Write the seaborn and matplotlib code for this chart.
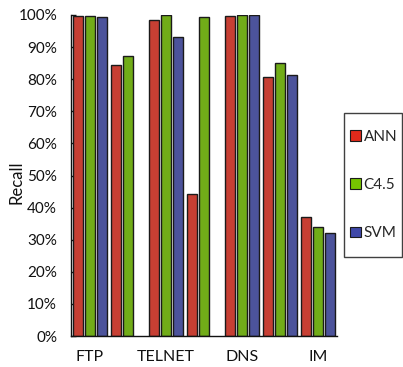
import numpy as np
import pandas as pd
import matplotlib
matplotlib.use("Agg")
import matplotlib.pyplot as plt
from matplotlib.patches import Patch, Rectangle
from matplotlib.ticker import PercentFormatter
import seaborn as sns

# Recall per traffic class for each classifier (NaN = no result)
tick_labels = ["FTP", "", "TELNET", "", "DNS", "", "IM"]
classifiers = ["ANN", "C4.5", "SVM"]
ann = [0.996, 0.844, 0.984, 0.442, 0.997, 0.808, 0.370]
c45 = [0.998, 0.873, 1.000, 0.995, 1.000, 0.851, 0.341]
svm = [0.994, np.nan, 0.930, np.nan, 1.000, 0.812, 0.320]
colors = ["#DF2A1B", "#76C400", "#3F48A8"]

groups = list(range(len(tick_labels)))
df = pd.DataFrame({
    "group": groups * 3,
    "classifier": [c for c in classifiers for _ in groups],
    "recall": ann + c45 + svm,
})

sns.set_style("white")
plt.rcParams["font.family"] = ["Lato", "DejaVu Sans"]

W, H = 403, 367
fig = plt.figure(figsize=(W / 100, H / 100), dpi=100)
ax = fig.add_axes([71 / W, 1 - 336 / H, 266 / W, 321 / H])

sns.barplot(data=df, x="group", y="recall", hue="classifier",
            order=groups, hue_order=classifiers, palette=colors,
            width=0.94, gap=0.15, edgecolor="#1a1a1a", linewidth=1.0,
            legend=False, ax=ax)

ax.set_xlim(-0.5, len(groups) - 0.5)
ax.set_ylim(0, 1)
ax.set_yticks(np.arange(0, 1.01, 0.1))
ax.yaxis.set_major_formatter(PercentFormatter(1.0, decimals=0))
ax.set_xticks(groups)
ax.set_xticklabels(tick_labels)
ax.set_xlabel("")
ax.set_ylabel("Recall", fontsize=12, color="#111111")
ax.yaxis.set_label_coords(-0.175, 0.48)

for s in ["top", "right"]:
    ax.spines[s].set_visible(False)
for s in ["left", "bottom"]:
    ax.spines[s].set_color("#111111")
    ax.spines[s].set_linewidth(1.0)

ax.tick_params(axis="y", direction="in", length=3.5, width=1.0, color="#111111",
               pad=10, labelsize=11, labelcolor="#111111", left=True)
ax.tick_params(axis="x", direction="in", length=2.5, width=1.0, color="#111111",
               pad=10, labelsize=11.5, labelcolor="#111111", bottom=True)

# legend box drawn as a separate frame, entries centred inside it
box_x0, box_x1, box_y0, box_y1 = 344, 402, 113, 257
fig.patches.append(Rectangle((box_x0 / W, 1 - box_y1 / H),
                             (box_x1 - box_x0) / W, (box_y1 - box_y0) / H,
                             transform=fig.transFigure, fill=False,
                             edgecolor="#404040", linewidth=1.0))
handles = [Patch(facecolor=c, edgecolor="#1a1a1a", linewidth=0.8) for c in colors]
fig.legend(handles, classifiers, loc="center left",
           bbox_to_anchor=(350 / W, 1 - 185 / H),
           frameon=False, fontsize=11,
           handlelength=0.7, handleheight=0.7, handletextpad=0.2,
           labelspacing=2.25, borderpad=0, borderaxespad=0)

fig.savefig("out.png", dpi=100)
